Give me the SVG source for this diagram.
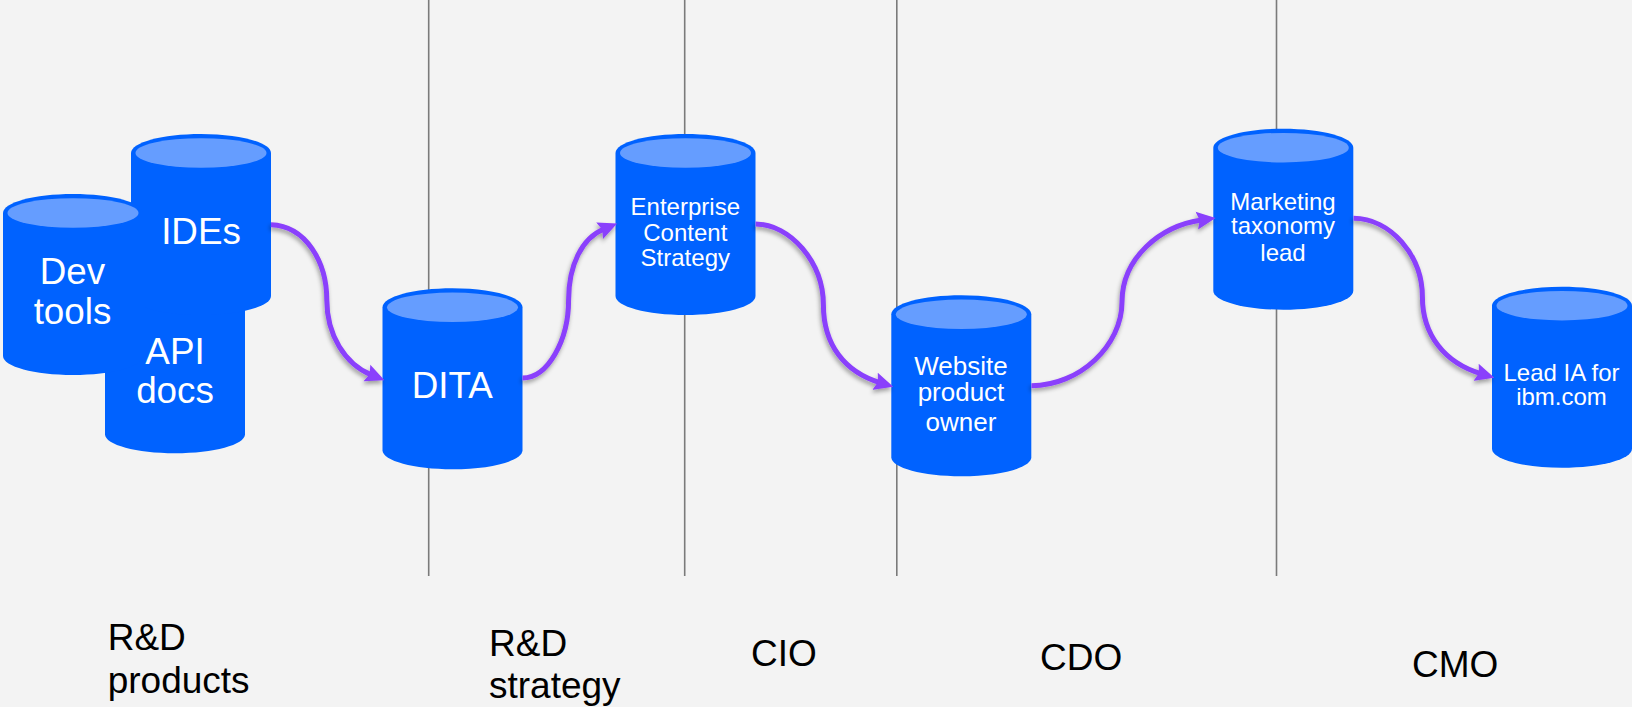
<svg xmlns="http://www.w3.org/2000/svg" width="1632" height="707" viewBox="0 0 1632 707">
<style>
text{font-family:"Liberation Sans",Arial,sans-serif;text-anchor:middle}
.body{fill:#0062ff}
.cap{fill:#659dff}
.w{fill:#fff}
.f37{font-size:36.800px}
.f26{font-size:26px}
.f24{font-size:24px}
.lab{fill:#000;font-size:37px;text-anchor:start}
.v{stroke:#7a7a7a;stroke-width:1.6;fill:none}
.c{stroke:#8a3ffc;stroke-width:5;fill:none;stroke-linecap:butt;marker-end:url(#a)}
</style>
<defs>
<marker id="a" markerUnits="userSpaceOnUse" viewBox="0 0 16 16" markerWidth="19" markerHeight="19" refX="4" refY="8" orient="auto"><path d="M0 0.500L16 8L0 15.500L2.500 8Z" fill="#8a3ffc"/></marker>
<filter id="s" x="-20%" y="-20%" width="140%" height="140%"><feDropShadow dx="-1" dy="3" stdDeviation="2" flood-color="#000" flood-opacity=".35"/></filter>
<g id="cyl">
<path class="body" d="M0 19C0 8.500 31.300 0 70 0S140 8.500 140 19V162C140 172.500 108.700 181 70 181S0 172.500 0 162Z"/>
<ellipse class="cap" cx="70" cy="19" rx="65.500" ry="14.800"/>
</g>
</defs>
<rect width="1632" height="707" fill="#f3f3f3"/>
<g id="dividers">
<line class="v" x1="428.700" y1="0" x2="428.700" y2="576"/>
<line class="v" x1="684.700" y1="0" x2="684.700" y2="576"/>
<line class="v" x1="896.800" y1="0" x2="896.800" y2="576"/>
<line class="v" x1="1276.500" y1="0" x2="1276.500" y2="576"/>
</g>
<g id="node-api"><use href="#cyl" x="105" y="272.300"/><text class="w f37" x="175" y="364">API</text><text class="w f37" x="175" y="403">docs</text></g>
<g id="node-ides"><use href="#cyl" x="131" y="134"/><text class="w f37" x="201" y="244.300">IDEs</text></g>
<g id="node-dev"><use href="#cyl" x="3" y="194"/><text class="w f37" x="72.500" y="284">Dev</text><text class="w f37" x="72.500" y="324">tools</text></g>
<g id="node-dita"><use href="#cyl" x="382.500" y="288.300"/><text class="w f37" x="452.300" y="398.300">DITA</text></g>
<g id="node-ecs"><use href="#cyl" x="615.500" y="134"/><text class="w f24" x="685.300" y="215">Enterprise</text><text class="w f24" x="685.300" y="240.500">Content</text><text class="w f24" x="685.300" y="265.700">Strategy</text></g>
<g id="node-web"><use href="#cyl" x="891.300" y="295.300"/><text class="w f26" x="961" y="375">Website</text><text class="w f26" x="961" y="401">product</text><text class="w f26" x="961" y="430.700">owner</text></g>
<g id="node-mkt"><use href="#cyl" x="1213.300" y="128.700"/><text class="w f24" x="1283" y="210">Marketing</text><text class="w f24" x="1283" y="234">taxonomy</text><text class="w f24" x="1283" y="260.700">lead</text></g>
<g id="node-ia"><use href="#cyl" x="1492" y="286.700"/><text class="w f24" x="1561.500" y="380.700">Lead IA for</text><text class="w f24" x="1561.500" y="405">ibm.com</text></g>
<g id="connectors" filter="url(#s)">
<path class="c" d="M271 224.700C306 226 326.800 262 326.800 300C326.800 335 345 364 371.300 374.900"/>
<path class="c" d="M522.500 378C548 378 568.600 340 568.600 300C568.600 265 582 238 604 229"/>
<path class="c" d="M755.600 224C790 224 823.400 262 823.400 305C823.400 345 845 372 879.700 382.600"/>
<path class="c" d="M1031.400 385.700C1080 385.700 1122 345 1122 302C1122 258 1160 226 1201.500 220"/>
<path class="c" d="M1353.500 218.300C1390 218.300 1422.400 255 1422.400 297C1422.400 335 1445 363 1480.700 373.600"/>
</g>
<g id="labels">
<text class="lab" x="107.700" y="650">R&amp;D</text><text class="lab" x="107.700" y="692.700">products</text>
<text class="lab" x="489" y="655.700">R&amp;D</text><text class="lab" x="489" y="698.300">strategy</text>
<text class="lab" x="751" y="666">CIO</text>
<text class="lab" x="1040" y="670">CDO</text>
<text class="lab" x="1412" y="677">CMO</text>
</g>
</svg>
